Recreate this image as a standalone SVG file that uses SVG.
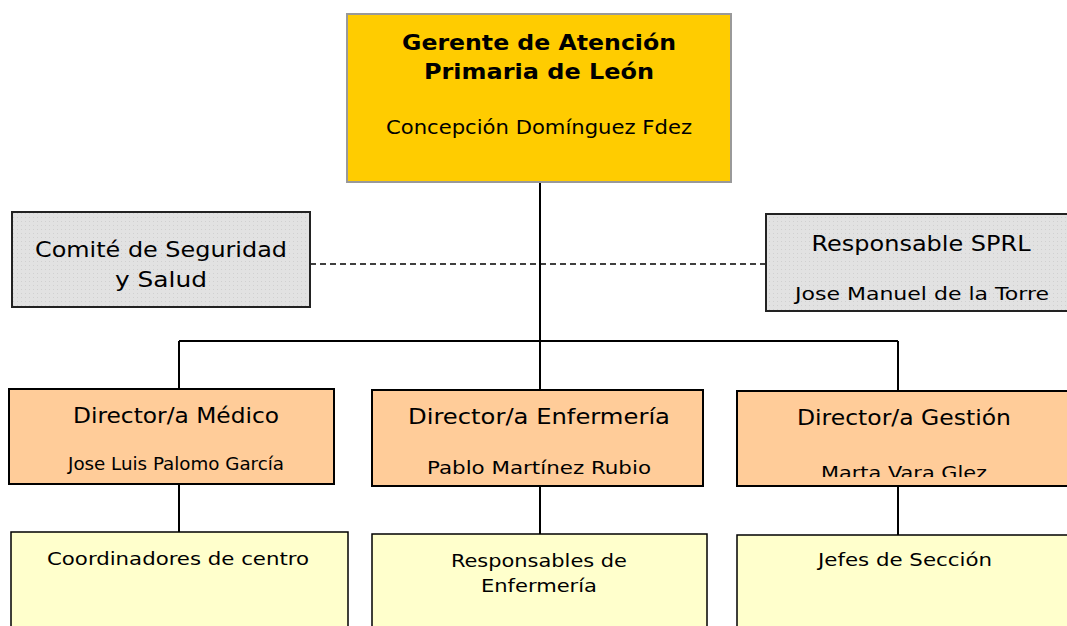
<svg xmlns="http://www.w3.org/2000/svg" width="1067" height="626" viewBox="0 0 1067 626">
<style>
.t{font-family:"DejaVu Sans","Liberation Sans",sans-serif;fill:#000;text-anchor:middle}
.b{font-weight:bold}
.c{font-family:"DejaVu Sans Condensed","DejaVu Sans","Liberation Sans",sans-serif}
.ln{stroke:#000;stroke-width:2;fill:none}
.dash{stroke:#000;stroke-width:1.5;stroke-dasharray:6,4;fill:none}
.gray{fill:url(#dots);stroke:#222;stroke-width:2}
.dir{fill:#FFCC99;stroke:#000;stroke-width:2}
.sub{fill:#FFFFCC;stroke:#000;stroke-width:1.5}
</style>
<defs>
<pattern id="dots" width="4" height="4" patternUnits="userSpaceOnUse">
<rect width="4" height="4" fill="#E2E2E2"/>
<rect x="1" y="1" width="1" height="1" fill="#D0D0D0"/>
</pattern>
<clipPath id="clipG"><rect x="737" y="391" width="330" height="86"/></clipPath>
</defs>
<rect width="1067" height="626" fill="#fff"/>
<g id="connectors">
<line class="ln" x1="540" y1="182" x2="540" y2="390"/>
<line class="ln" x1="179" y1="341" x2="898" y2="341"/>
<line class="ln" x1="179" y1="341" x2="179" y2="389"/>
<line class="ln" x1="898" y1="341" x2="898" y2="391"/>
<line class="dash" x1="310" y1="264" x2="766" y2="264"/>
<line class="ln" x1="179" y1="484" x2="179" y2="533"/>
<line class="ln" x1="540" y1="486" x2="540" y2="534"/>
<line class="ln" x1="898" y1="486" x2="898" y2="535"/>
</g>
<g id="gerente">
<rect x="347" y="14" width="384" height="168" fill="#FFCC00" stroke="#999" stroke-width="2"/>
<text class="t b" x="539" y="50" font-size="22" textLength="274" lengthAdjust="spacingAndGlyphs">Gerente de Atención</text>
<text class="t b" x="539" y="79" font-size="22" textLength="230" lengthAdjust="spacingAndGlyphs">Primaria de León</text>
<text class="t" x="539" y="134" font-size="19" textLength="306" lengthAdjust="spacingAndGlyphs">Concepción Domínguez Fdez</text>
</g>
<g id="comite">
<rect class="gray" x="12" y="212" width="298" height="95"/>
<text class="t" x="161" y="257" font-size="22" textLength="252" lengthAdjust="spacingAndGlyphs">Comité de Seguridad</text>
<text class="t" x="161" y="287" font-size="22" textLength="92" lengthAdjust="spacingAndGlyphs">y Salud</text>
</g>
<g id="sprl">
<rect class="gray" x="766" y="214" width="310" height="97"/>
<text class="t" x="921" y="251" font-size="21" textLength="219" lengthAdjust="spacingAndGlyphs">Responsable SPRL</text>
<text class="t" x="922" y="300" font-size="18" textLength="254" lengthAdjust="spacingAndGlyphs">Jose Manuel de la Torre</text>
</g>
<g id="dir-medico">
<rect class="dir" x="9" y="389" width="325" height="95"/>
<text class="t" x="176" y="423" font-size="21" textLength="206" lengthAdjust="spacingAndGlyphs">Director/a Médico</text>
<text class="t" x="176" y="470" font-size="17" textLength="216" lengthAdjust="spacingAndGlyphs">Jose Luis Palomo García</text>
</g>
<g id="dir-enfermeria">
<rect class="dir" x="372" y="390" width="331" height="96"/>
<text class="t" x="539" y="424" font-size="21" textLength="262" lengthAdjust="spacingAndGlyphs">Director/a Enfermería</text>
<text class="t" x="539" y="474" font-size="18" textLength="224" lengthAdjust="spacingAndGlyphs">Pablo Martínez Rubio</text>
</g>
<g id="dir-gestion">
<rect class="dir" x="737" y="391" width="340" height="95"/>
<text class="t" x="904" y="425" font-size="21" textLength="214" lengthAdjust="spacingAndGlyphs">Director/a Gestión</text>
<text class="t" x="904" y="479" font-size="18" clip-path="url(#clipG)" textLength="166" lengthAdjust="spacingAndGlyphs">Marta Vara Glez</text>
</g>
<g id="coordinadores">
<rect class="sub" x="11" y="532" width="337" height="100"/>
<text class="t c" x="178" y="565" font-size="18" textLength="262" lengthAdjust="spacingAndGlyphs">Coordinadores de centro</text>
</g>
<g id="resp-enfermeria">
<rect class="sub" x="372" y="534" width="335" height="100"/>
<text class="t c" x="539" y="567" font-size="18" textLength="176" lengthAdjust="spacingAndGlyphs">Responsables de</text>
<text class="t c" x="539" y="592" font-size="18" textLength="116" lengthAdjust="spacingAndGlyphs">Enfermería</text>
</g>
<g id="jefes">
<rect class="sub" x="737" y="535" width="340" height="100"/>
<text class="t c" x="905" y="566" font-size="18" textLength="174" lengthAdjust="spacingAndGlyphs">Jefes de Sección</text>
</g>
</svg>
